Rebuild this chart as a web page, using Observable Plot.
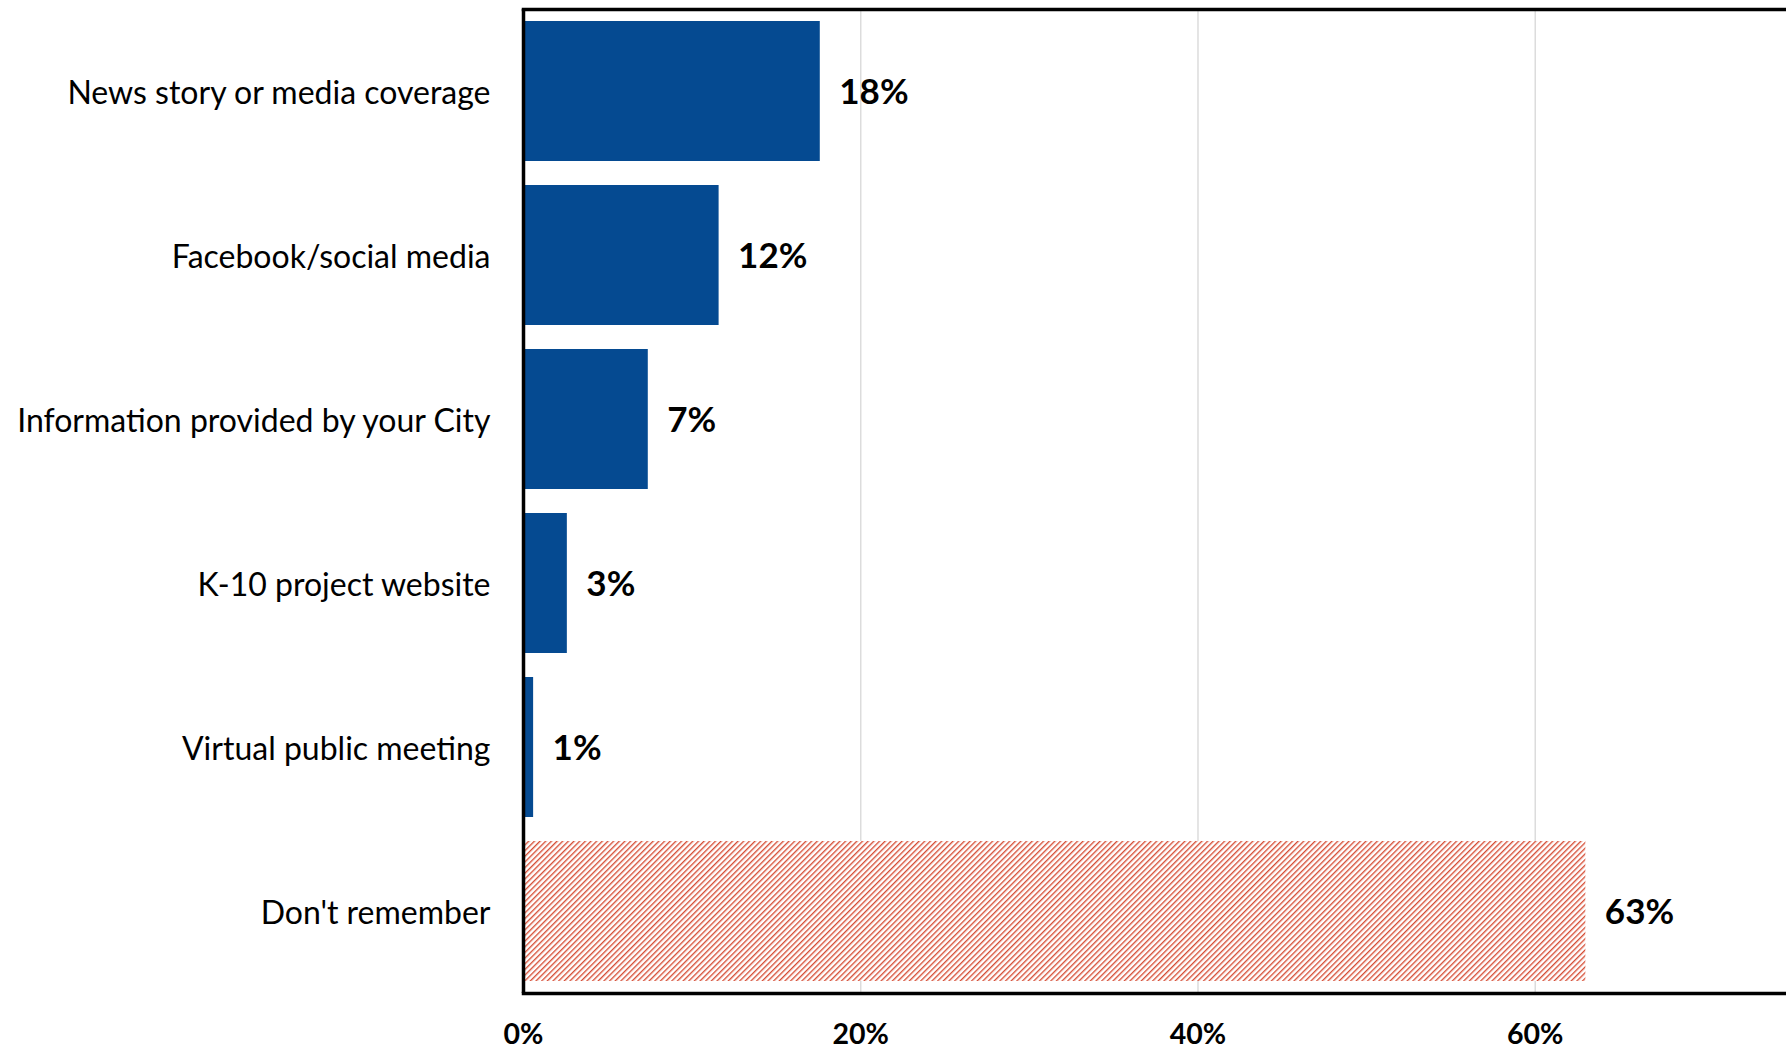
<!DOCTYPE html>
<html>
<head>
<meta charset="utf-8">
<script src="https://cdn.jsdelivr.net/npm/d3@7"></script>
<script src="https://cdn.jsdelivr.net/npm/@observablehq/plot@0.6"></script>
<style>
  html, body { margin: 0; padding: 0; background: #fff; overflow: hidden; }
  svg { display: block; }
</style>
</head>
<body>
<div id="chart"></div>
<script>
const categories = [
  "News story or media coverage",
  "Facebook/social media",
  "Information provided by your City",
  "K-10 project website",
  "Virtual public meeting",
  "Don't remember"
];
const values = [0.176, 0.116, 0.074, 0.026, 0.006, 0.63];
const valueLabels = ["18%", "12%", "7%", "3%", "1%", "63%"];
const xTicks = [0, 0.2, 0.4, 0.6];
const gridTicks = [0.2, 0.4, 0.6];

const data = categories.map((c, i) => ({category: c, value: values[i], label: valueLabels[i]}));

const BLUE = "#054a91";
const isHatched = d => d.category === "Don't remember";

const chart = Plot.plot({
  width: 1786,
  height: 1049,
  marginLeft: 523,
  marginRight: 0,
  marginTop: 9,
  marginBottom: 56,
  style: {fontFamily: "Lato, sans-serif", color: "#000", background: "#fff"},
  x: {domain: [0, 0.749], axis: null, label: null},
  y: {domain: categories, paddingInner: 0.146, paddingOuter: 0.073, axis: null, label: null},
  marks: [
    Plot.gridX(gridTicks, {stroke: "#dcdcdc", strokeOpacity: 1, strokeWidth: 1.5}),
    Plot.barX(data, {
      x: "value",
      y: "category",
      fill: d => isHatched(d) ? "url(#hatch)" : BLUE
    }),
    Plot.text(data, {
      x: "value",
      y: "category",
      text: "label",
      dx: 19,
      dy: 1,
      textAnchor: "start",
      fontWeight: "bold",
      fontSize: 35,
      fill: "#000"
    }),
    Plot.axisY({tickSize: 0, tickPadding: 33, dy: 2, fontSize: 32, fill: "#000", label: null}),
    Plot.axisX({ticks: xTicks, tickFormat: d3.format(".0%"), tickSize: 0, tickPadding: 30, fontSize: 28.5, fontWeight: "bold", fill: "#000", label: null}),
    Plot.ruleX([0], {stroke: "#000", strokeWidth: 3.5}),
    Plot.frame({anchor: "top", stroke: "#000", strokeWidth: 3.5}),
    Plot.frame({anchor: "bottom", stroke: "#000", strokeWidth: 3.5})
  ]
});

const svg = d3.select(chart);
const defs = svg.insert("defs", ":first-child");
const pat = defs.append("pattern")
  .attr("id", "hatch")
  .attr("patternUnits", "userSpaceOnUse")
  .attr("width", 4)
  .attr("height", 4)
  .attr("patternTransform", "rotate(45)");
pat.append("rect").attr("width", 4).attr("height", 4).attr("fill", "#fff");
pat.append("line")
  .attr("x1", 0.7).attr("y1", 0).attr("x2", 0.7).attr("y2", 4)
  .attr("stroke", "#d4452c").attr("stroke-width", 1.3);

document.getElementById("chart").appendChild(chart);
</script>
</body>
</html>
